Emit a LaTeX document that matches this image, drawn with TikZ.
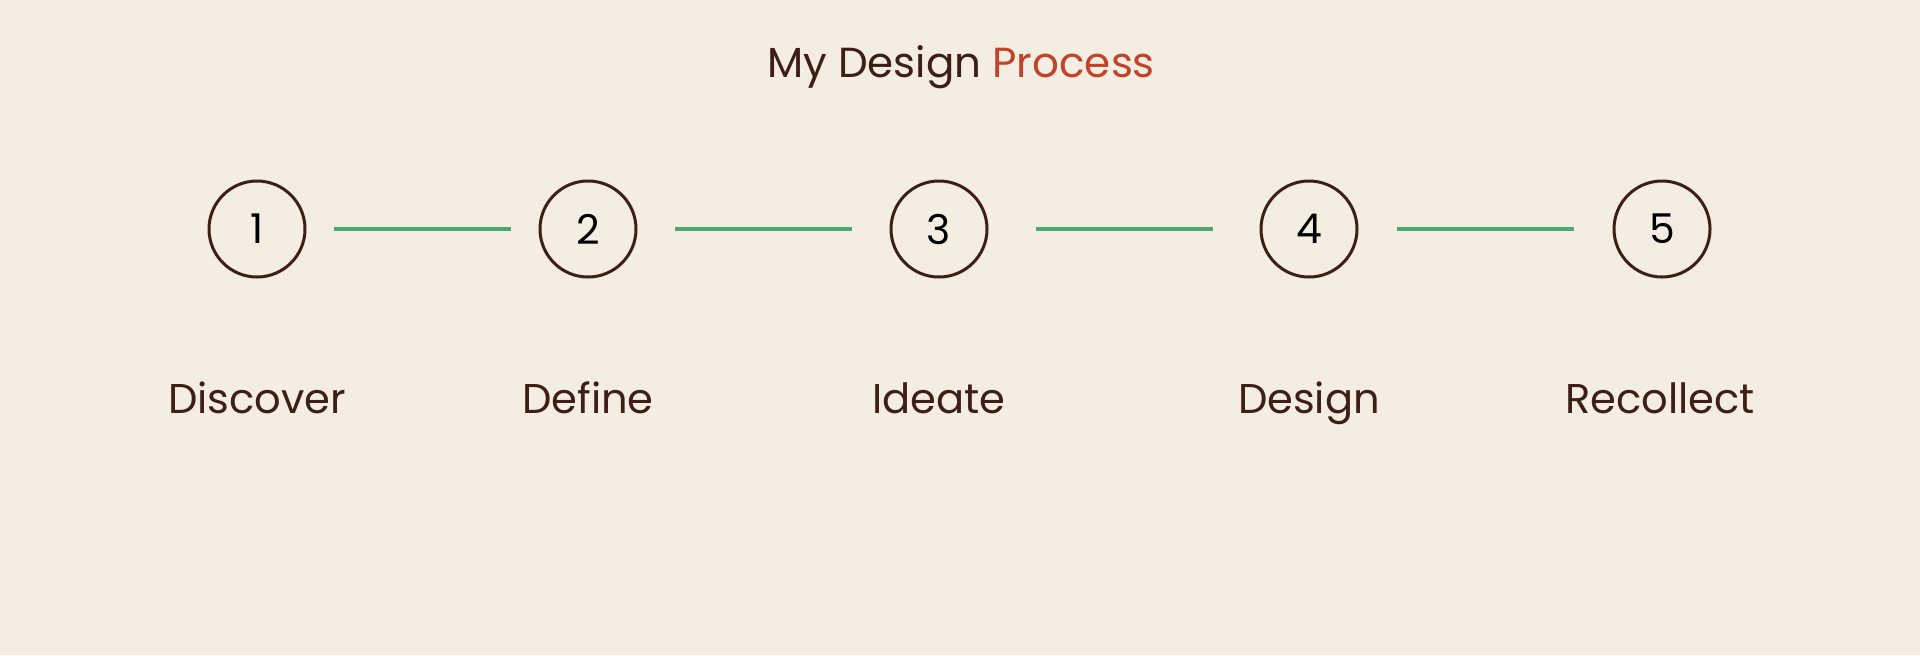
\documentclass[tikz,border=0pt]{standalone}
\usepackage{fontspec}
\setmainfont{Poppins}[Ligatures=NoCommon]
\usetikzlibrary{calc,positioning}

\definecolor{paper}{HTML}{F4EDE1}
\definecolor{bark}{HTML}{3E1F17}
\definecolor{rust}{HTML}{C0432A}
\definecolor{leaf}{HTML}{4CA874}

\begin{document}
\begin{tikzpicture}[x=1pt,y=1pt]
    \tikzset{stepcircle/.style={circle,draw=bark,line width=1.5pt,minimum size=48pt,inner sep=0pt,font=\fontsize{20.5}{24}\selectfont,text=black},
             stagename/.style={anchor=base,font=\fontsize{20.8}{24}\selectfont,text=bark},
             link/.style={draw=leaf,line width=1.6pt}}
    \fill[paper] (0,0) rectangle (960,-327.5);
    \useasboundingbox (0,0) rectangle (960,-327.5);

    % title
    \node[anchor=base,font=\fontsize{21}{25}\selectfont] (title) at (480.5,-38.5)
      {\textcolor{bark}{My Design} \textcolor{rust}{Process}};

    % steps
    \node[stepcircle] (c1) at (128.5,-114.5) {1};
    \node[stepcircle] (c2) at (294,-114.5) {2};
    \node[stepcircle] (c3) at (469.5,-114.5) {3};
    \node[stepcircle] (c4) at (654.5,-114.5) {4};
    \node[stepcircle] (c5) at (831,-114.5) {5};

    \foreach \a/\b in {c1/c2,c2/c3,c3/c4,c4/c5}
      \draw[link] ($(\a)!0.5!(\b)+(-44.25,0)$) -- ($(\a)!0.5!(\b)+(44.25,0)$);

    % names
    \node[stagename] (n1) at ([yshift=-92pt]c1.center) {Discover};
    \node[stagename] (n2) at ([yshift=-92pt]c2.center) {Define};
    \node[stagename] (n3) at ([yshift=-92pt]c3.center) {Ideate};
    \node[stagename] (n4) at ([yshift=-92pt]c4.center) {Design};
    \node[stagename] (n5) at ([yshift=-92pt,xshift=-1pt]c5.center) {Recollect};
\end{tikzpicture}
\end{document}
